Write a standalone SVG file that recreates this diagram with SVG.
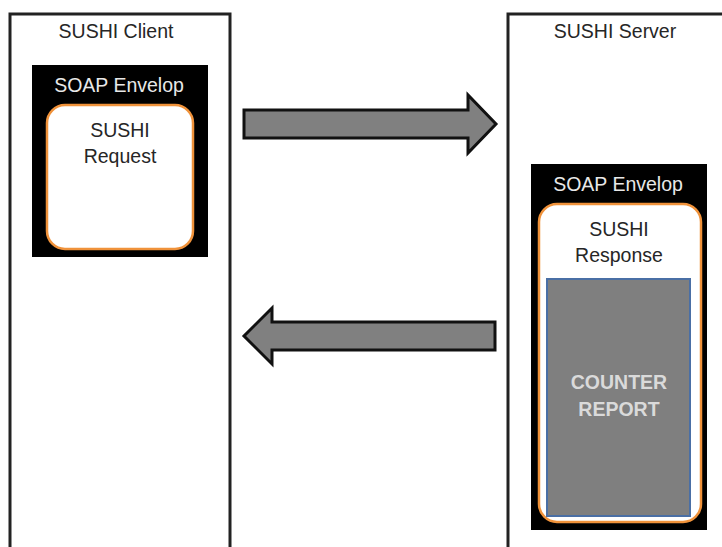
<svg xmlns="http://www.w3.org/2000/svg" width="722" height="547" viewBox="0 0 722 547">
<style>
text{font-family:"Liberation Sans",Arial,sans-serif;font-size:19.5px;text-anchor:middle;}
.title{fill:#262626;}
.env{fill:#000;}
.envt{fill:#e8e8e8;}
.msg{fill:#fff;stroke:#f0923a;stroke-width:2.5;}
.msgt{fill:#262626;}
.arrow{fill:#808080;stroke:#111;stroke-width:3;stroke-linejoin:miter;}
.sys{fill:#fff;stroke:#222;stroke-width:3;}
</style>
<rect width="722" height="547" fill="#fff"/>
<g id="client">
<rect class="sys" x="10" y="14" width="220" height="545"/>
<text class="title" x="116" y="38">SUSHI Client</text>
</g>
<g id="client-envelope">
<rect class="env" x="32" y="65" width="176" height="192"/>
<text class="envt" x="119" y="92">SOAP Envelop</text>
</g>
<g id="sushi-request">
<rect class="msg" x="47" y="105" width="146" height="144" rx="18"/>
<text class="msgt" x="120" y="137">SUSHI</text>
<text class="msgt" x="120" y="163">Request</text>
</g>
<g id="server">
<rect class="sys" x="508" y="14" width="230" height="545"/>
<text class="title" x="615" y="38">SUSHI Server</text>
</g>
<g id="server-envelope">
<rect class="env" x="531" y="164" width="176" height="366"/>
<text class="envt" x="618" y="191">SOAP Envelop</text>
</g>
<g id="sushi-response">
<rect class="msg" x="539" y="204" width="162" height="318" rx="18"/>
<text class="msgt" x="619" y="236">SUSHI</text>
<text class="msgt" x="619" y="262">Response</text>
</g>
<g id="counter-report">
<rect x="547" y="279" width="143" height="237" fill="#7f7f7f" stroke="#4a6fa5" stroke-width="2"/>
<text x="619" y="389" fill="#dadada" font-weight="bold" font-size="18">COUNTER</text>
<text x="619" y="416" fill="#dadada" font-weight="bold" font-size="18">REPORT</text>
</g>
<g id="connectors">
<polygon class="arrow" points="244,110 468,110 468,95 496,124 468,153 468,138 244,138"/>
<polygon class="arrow" points="495,322 272,322 272,308 244,336 272,364 272,350 495,350"/>
</g>
</svg>
